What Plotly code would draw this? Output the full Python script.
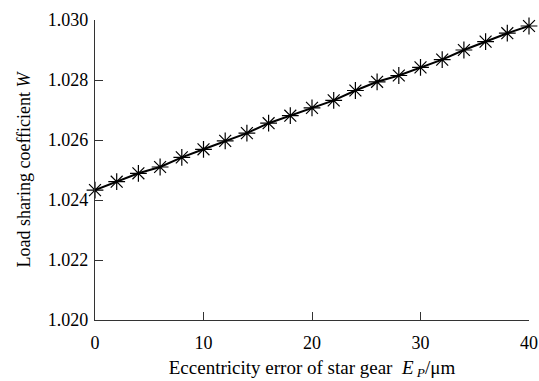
import plotly.graph_objects as go

ecc = [0, 2, 4, 6, 8, 10, 12, 14, 16, 18, 20, 22, 24, 26, 28, 30, 32, 34, 36, 38, 40]
w = [1.02433, 1.02461, 1.02489, 1.02510, 1.02542, 1.02569, 1.02597, 1.02623, 1.02656,
     1.02681, 1.02707, 1.02732, 1.02765, 1.02794, 1.02815, 1.02842, 1.02868, 1.02900,
     1.02928, 1.02956, 1.02980]

xticks = [0, 10, 20, 30, 40]
yticks = [1.020, 1.022, 1.024, 1.026, 1.028, 1.030]
ytick_text = ["1.020", "1.022", "1.024", "1.026", "1.028", "1.030"]

font = "Liberation Serif, Times New Roman, serif"

fig = go.Figure(go.Scatter(
    x=ecc, y=w, mode="lines+markers",
    line=dict(color="black", width=2),
    marker=dict(symbol="asterisk-open", size=14, color="black",
                line=dict(color="black", width=1.2)),
    cliponaxis=False,
))

fig.update_layout(
    width=539, height=381,
    margin=dict(l=95, r=10, t=20, b=61),
    paper_bgcolor="white", plot_bgcolor="white",
    showlegend=False,
    font=dict(family=font, size=18, color="black"),
    xaxis=dict(
        range=[0, 40], tickvals=xticks, ticks="inside", ticklen=8,
        tickcolor="#333", tickwidth=1.2, automargin=False,
        showline=True, linecolor="#333", linewidth=1.2,
        showgrid=False, zeroline=False, ticklabelstandoff=6,
        tickfont=dict(size=18),
        title=dict(text="Eccentricity error of star gear  <i>E</i><sub><i> P</i></sub>/μm",
                   standoff=8, font=dict(size=19)),
    ),
    yaxis=dict(
        range=[1.020, 1.030], tickvals=yticks, ticktext=ytick_text,
        ticks="inside", ticklen=8, tickcolor="#333", tickwidth=1.2,
        showline=True, linecolor="#333", linewidth=1.2, automargin=False,
        showgrid=False, zeroline=False, ticklabelstandoff=2,
        tickfont=dict(size=18),
        title=dict(text="Load sharing coefficient <i>W</i>", standoff=12,
                   font=dict(size=18)),
    ),
)

fig.write_html("out.html")
